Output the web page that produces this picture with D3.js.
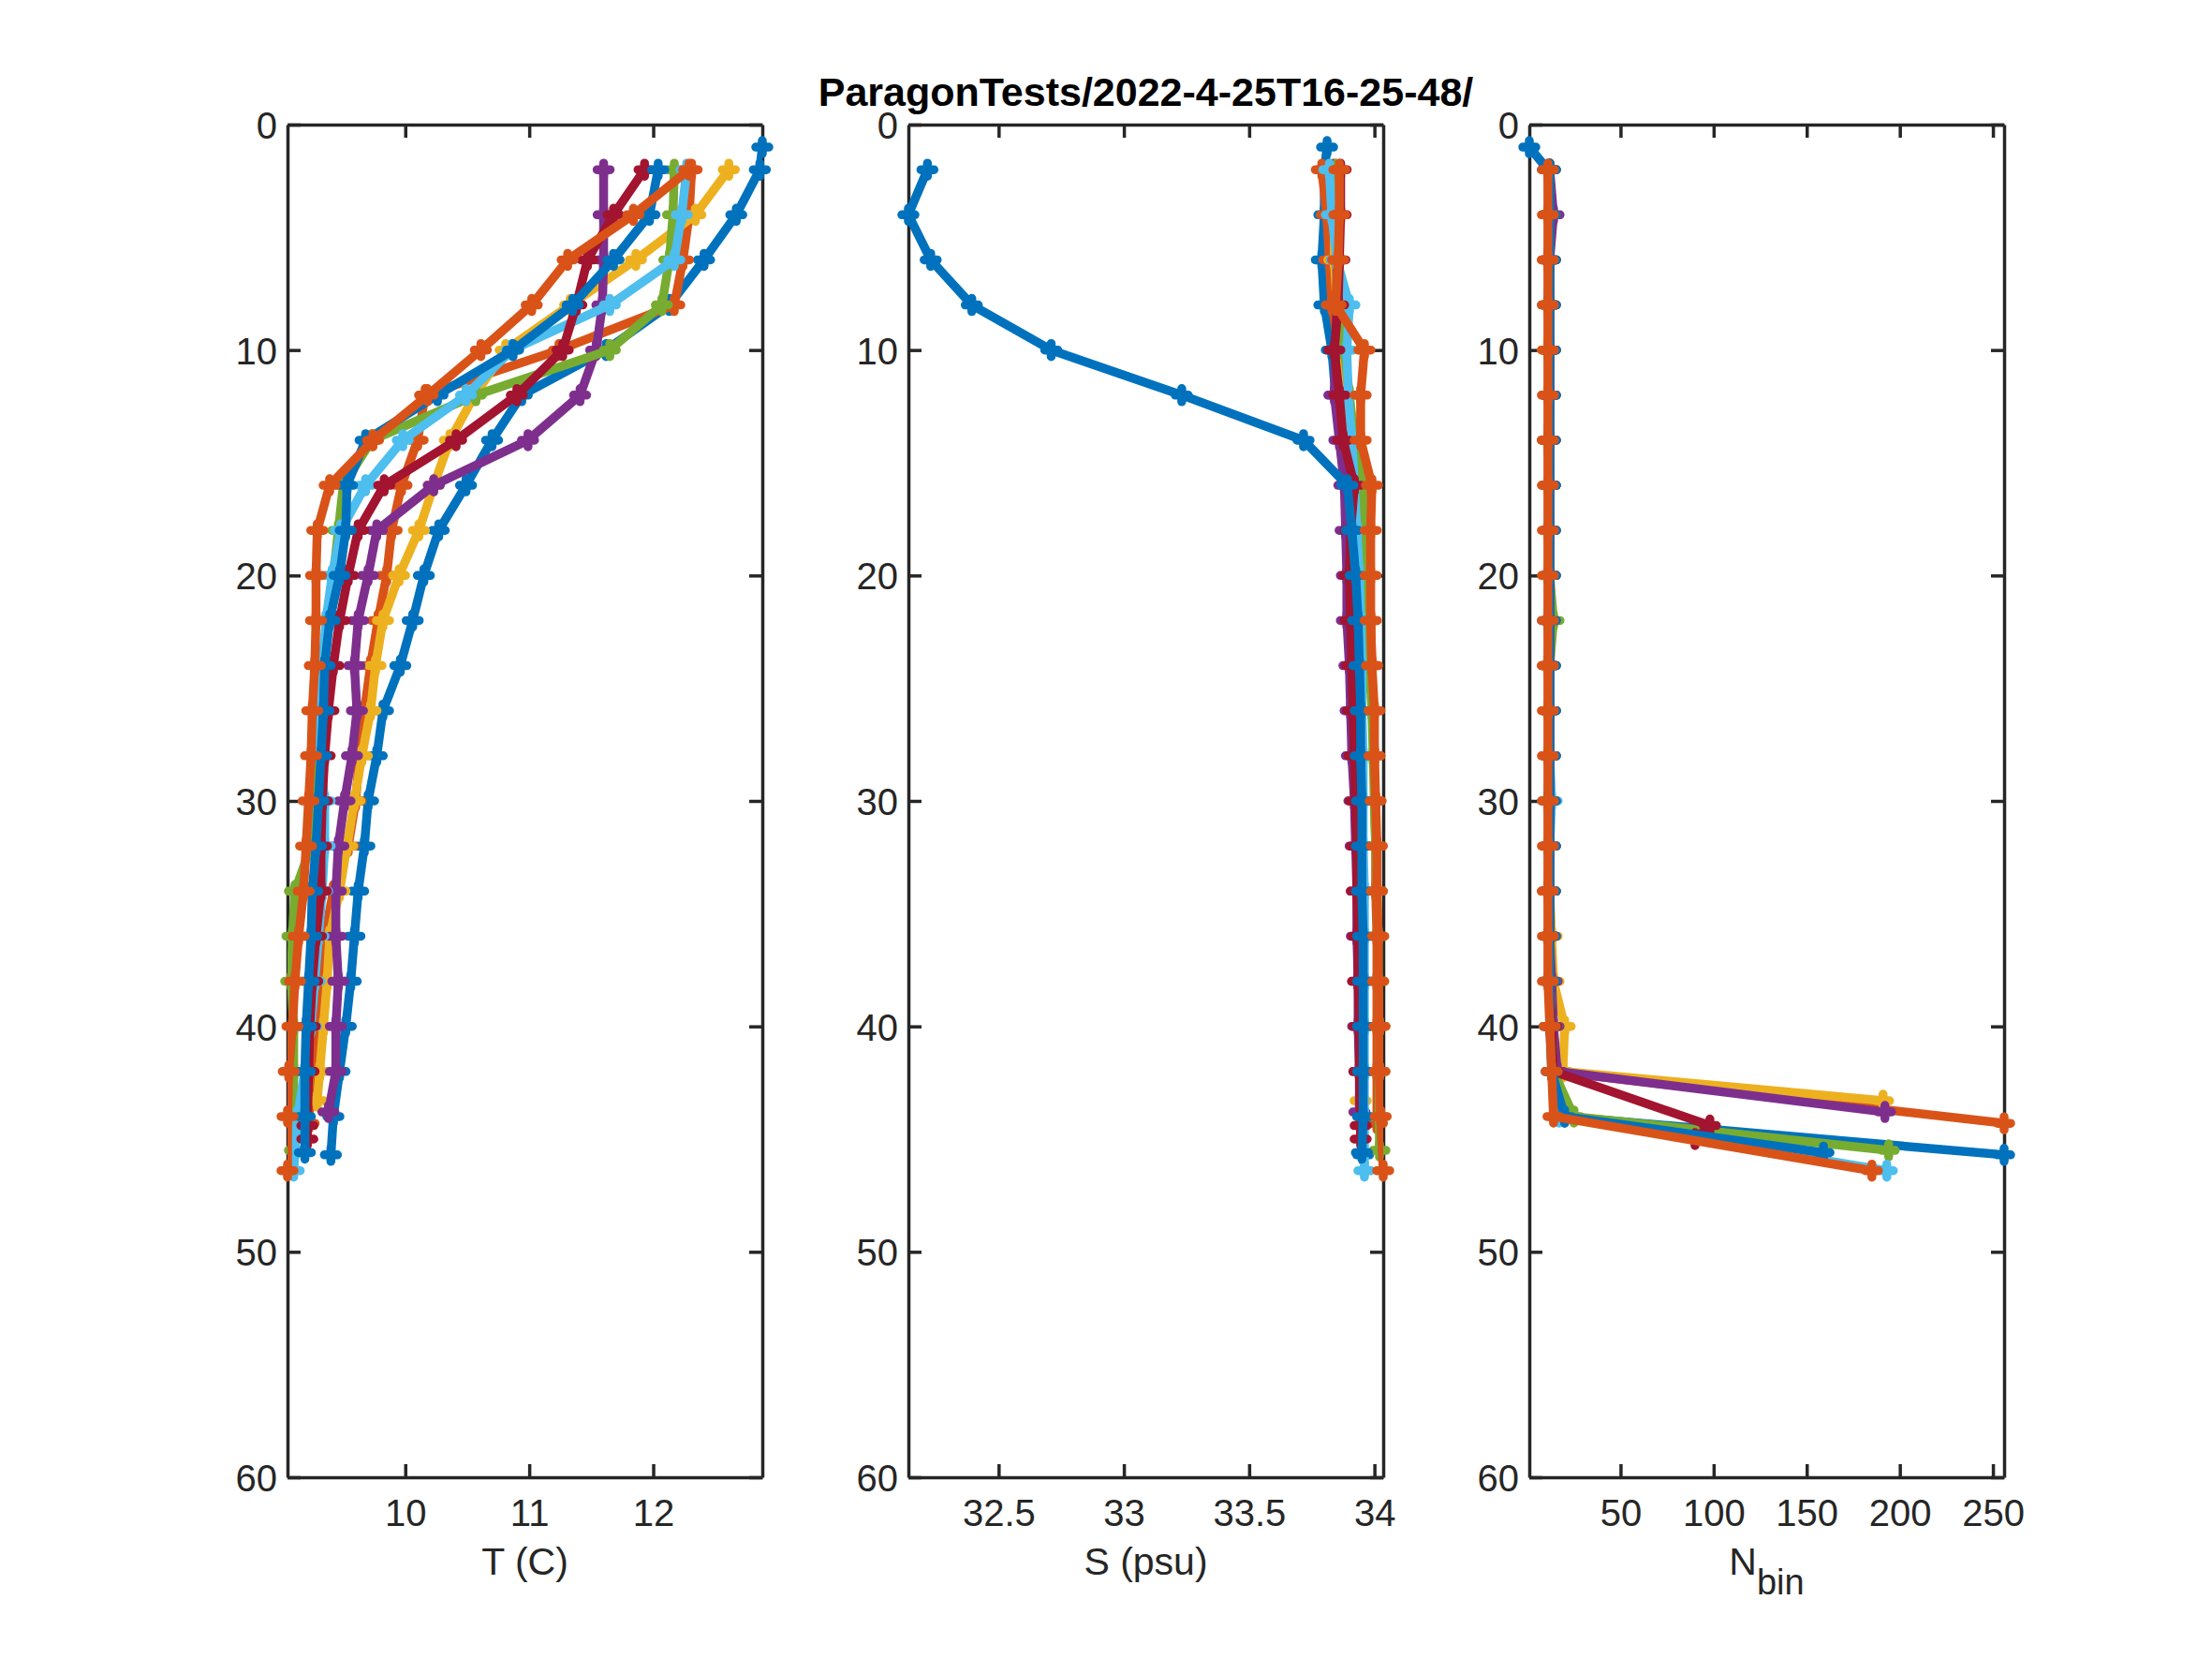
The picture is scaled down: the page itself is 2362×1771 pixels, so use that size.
<!DOCTYPE html>
<html>

<head>
    <meta charset="UTF-8">
    <title>ParagonTests/2022-4-25T16-25-48/</title>
    <script src="https://d3js.org/d3.v7.min.js"></script>
    <style>
        body { margin: 0; background: #fff; }
        text { font-family: "Liberation Sans", Arial, Helvetica, sans-serif; }
    </style>
</head>

<body>
    <div class="canvas"></div>

    <script>
        // ---- data, one set of arrays per profile (depth in m) ----
        const depth1 = [1, 2, 4, 6, 8, 10, 12, 14, 16, 18, 20, 22, 24, 26, 28, 30, 32, 34, 36, 38, 40, 42, 44, 45.7];
        const temp1 = [12.88, 12.86, 12.67, 12.41, 12.13, 11.62, 10.94, 10.70, 10.49, 10.27, 10.15, 10.06, 9.96, 9.82, 9.77, 9.70, 9.67, 9.62, 9.59, 9.56, 9.52, 9.47, 9.42, 9.40];
        const sal1 = [33.811, 33.80, 33.80, 33.79, 33.80, 33.83, 33.845, 33.87, 33.90, 33.915, 33.925, 33.93, 33.935, 33.94, 33.945, 33.945, 33.95, 33.95, 33.95, 33.955, 33.955, 33.955, 33.955, 33.955];
        const nbin1 = [1, 11, 12, 12, 11, 12, 12, 11, 12, 12, 12, 11, 12, 12, 12, 11, 12, 12, 12, 12, 13, 14, 20, 256];

        const depth2 = [2, 4, 6, 8, 10, 12, 14, 16, 18, 20, 22, 24, 26, 28, 30, 32, 34, 36, 38, 40, 42, 44.3];
        const temp2 = [12.31, 12.29, 12.24, 12.17, 11.24, 10.16, 10.10, 9.97, 9.89, 9.85, 9.78, 9.72, 9.67, 9.63, 9.60, 9.54, 9.42, 9.35, 9.30, 9.28, 9.25, 9.22];
        const sal2 = [33.79, 33.81, 33.82, 33.83, 33.86, 33.89, 33.93, 33.96, 33.97, 33.98, 33.985, 33.99, 33.995, 34.0, 34.0, 34.005, 34.005, 34.01, 34.01, 34.01, 34.01, 34.01];
        const nbin2 = [12, 12, 11, 12, 12, 12, 11, 12, 12, 12, 12, 11, 12, 12, 12, 12, 11, 12, 12, 12, 14, 256];

        const depth3 = [2, 4, 6, 8, 10, 12, 14, 16, 18, 20, 22, 24, 26, 28, 30, 32, 34, 36, 38, 40, 42, 43.3];
        const temp3 = [12.61, 12.34, 11.86, 11.33, 10.81, 10.56, 10.36, 10.23, 10.11, 9.95, 9.82, 9.76, 9.72, 9.65, 9.59, 9.53, 9.47, 9.39, 9.37, 9.34, 9.31, 9.29];
        const sal3 = [33.83, 33.84, 33.84, 33.85, 33.87, 33.88, 33.89, 33.91, 33.92, 33.925, 33.93, 33.93, 33.935, 33.935, 33.935, 33.94, 33.94, 33.94, 33.945, 33.945, 33.945, 33.945];
        const nbin3 = [12, 12, 12, 12, 11, 12, 12, 12, 12, 12, 13, 12, 12, 12, 12, 12, 12, 13, 14, 20, 19, 191];

        const depth4 = [2, 4, 6, 8, 10, 12, 14, 16, 18, 20, 22, 24, 26, 28, 30, 32, 34, 36, 38, 40, 42, 43.8];
        const temp4 = [11.60, 11.60, 11.60, 11.59, 11.54, 11.41, 10.99, 10.23, 9.77, 9.70, 9.62, 9.59, 9.61, 9.57, 9.51, 9.46, 9.44, 9.44, 9.46, 9.44, 9.44, 9.38];
        const sal4 = [33.84, 33.845, 33.85, 33.85, 33.845, 33.84, 33.86, 33.88, 33.885, 33.89, 33.89, 33.90, 33.905, 33.91, 33.92, 33.925, 33.93, 33.93, 33.935, 33.935, 33.94, 33.94];
        const nbin4 = [12, 14, 12, 12, 12, 12, 12, 12, 12, 12, 12, 12, 12, 12, 12, 12, 12, 12, 13, 14, 16, 192];

        const depth5 = [2, 4, 6, 8, 10, 12, 14, 16, 18, 20, 22, 24, 26, 28, 30, 32, 34, 36, 38, 40, 42, 44, 45.5];
        const temp5 = [12.17, 12.16, 12.13, 12.07, 11.65, 10.57, 9.73, 9.50, 9.46, 9.42, 9.37, 9.33, 9.30, 9.28, 9.26, 9.24, 9.11, 9.09, 9.08, 9.10, 9.10, 9.10, 9.11];
        const sal5 = [33.85, 33.85, 33.855, 33.86, 33.88, 33.90, 33.92, 33.95, 33.96, 33.97, 33.975, 33.98, 33.99, 33.995, 34.0, 34.005, 34.01, 34.015, 34.015, 34.02, 34.02, 34.02, 34.02];
        const nbin5 = [12, 12, 12, 12, 12, 12, 12, 12, 12, 12, 14, 12, 12, 12, 12, 12, 12, 12, 12, 13, 14, 25, 194];

        const depth6 = [2, 4, 6, 8, 10, 12, 14, 16, 18, 20, 22, 24, 26, 28, 30, 32, 34, 36, 38, 40, 42, 44, 46.4];
        const temp6 = [12.27, 12.23, 12.17, 11.65, 10.86, 10.49, 9.98, 9.68, 9.48, 9.41, 9.36, 9.33, 9.32, 9.31, 9.35, 9.35, 9.33, 9.30, 9.27, 9.24, 9.19, 9.13, 9.10];
        const sal6 = [33.82, 33.83, 33.85, 33.90, 33.89, 33.895, 33.91, 33.92, 33.93, 33.94, 33.945, 33.95, 33.95, 33.955, 33.955, 33.955, 33.96, 33.96, 33.96, 33.96, 33.96, 33.96, 33.96];
        const nbin6 = [12, 12, 12, 12, 12, 12, 12, 12, 12, 12, 12, 12, 12, 12, 13, 12, 12, 12, 12, 13, 13, 17, 193];

        const depth7 = [2, 4, 6, 8, 10, 12, 14, 16, 18, 20, 22, 24, 26, 28, 30, 32, 34, 36, 38, 40, 42, 44.4, 45.0];
        const temp7 = [11.93, 11.68, 11.47, 11.38, 11.27, 10.90, 10.41, 9.83, 9.62, 9.54, 9.47, 9.42, 9.38, 9.35, 9.33, 9.32, 9.32, 9.28, 9.25, 9.23, 9.22, 9.21, 9.21];
        const sal7 = [33.865, 33.865, 33.86, 33.855, 33.84, 33.86, 33.875, 33.92, 33.905, 33.90, 33.905, 33.91, 33.915, 33.92, 33.925, 33.93, 33.93, 33.935, 33.935, 33.94, 33.94, 33.945, 33.945];
        const nbin7 = [12, 12, 12, 12, 12, 12, 12, 12, 12, 12, 12, 12, 12, 12, 12, 12, 12, 12, 12, 13, 14, 98, 90];

        const depth8 = [2, 4, 6, 8, 10, 12, 14, 16, 18, 20, 22, 24, 26, 28, 30, 32, 34, 36, 38, 40, 42, 44, 45.6];
        const temp8 = [12.04, 11.97, 11.68, 11.35, 10.87, 10.26, 9.68, 9.53, 9.52, 9.47, 9.39, 9.35, 9.34, 9.32, 9.30, 9.28, 9.25, 9.24, 9.22, 9.20, 9.19, 9.19, 9.19];
        const sal8 = [32.216, 32.14, 32.229, 32.393, 32.71, 33.231, 33.717, 33.892, 33.91, 33.925, 33.935, 33.94, 33.945, 33.945, 33.95, 33.95, 33.95, 33.955, 33.955, 33.955, 33.955, 33.955, 33.95];
        const nbin8 = [12, 12, 12, 12, 12, 12, 12, 12, 12, 12, 12, 12, 12, 12, 12, 12, 12, 12, 12, 12, 13, 20, 159];

        const depth9 = [2, 4, 6, 8, 10, 12, 14, 16, 18, 20, 22, 24, 26, 28, 30, 32, 34, 36, 38, 40, 42, 44, 46.4];
        const temp9 = [12.29, 11.84, 11.31, 11.02, 10.61, 10.18, 9.74, 9.39, 9.29, 9.28, 9.28, 9.27, 9.25, 9.24, 9.22, 9.20, 9.18, 9.14, 9.11, 9.09, 9.06, 9.05, 9.05];
        const sal9 = [33.86, 33.86, 33.855, 33.845, 33.96, 33.945, 33.945, 33.99, 33.985, 33.985, 33.985, 33.99, 34.0, 34.0, 34.005, 34.01, 34.01, 34.015, 34.015, 34.02, 34.02, 34.025, 34.035];
        const nbin9 = [11, 11, 11, 11, 11, 11, 11, 11, 11, 11, 11, 11, 11, 11, 11, 11, 11, 11, 11, 12, 13, 14, 185];

        // matlab default colour order, cycling back for profiles 8 and 9
        const colors = ["#0072BD", "#D95319", "#EDB120", "#7E2F8E", "#77AC30", "#4DBEEE", "#A2142F", "#0072BD", "#D95319"];

        const depthTicks = [0, 10, 20, 30, 40, 50, 60];
        const tempTicks = [10, 11, 12];
        const salTicks = [32.5, 33, 33.5, 34];
        const nbinTicks = [50, 100, 150, 200, 250];

        const titleText = "ParagonTests/2022-4-25T16-25-48/";

        // ---- build the table ----
        const depths = [depth1, depth2, depth3, depth4, depth5, depth6, depth7, depth8, depth9];
        const temps = [temp1, temp2, temp3, temp4, temp5, temp6, temp7, temp8, temp9];
        const sals = [sal1, sal2, sal3, sal4, sal5, sal6, sal7, sal8, sal9];
        const nbins = [nbin1, nbin2, nbin3, nbin4, nbin5, nbin6, nbin7, nbin8, nbin9];

        const profiles = depths.map((dz, i) => dz.map((z, j) => ({
            z: z, temp: temps[i][j], sal: sals[i][j], nbin: nbins[i][j]
        })));

        const panels = [
            { key: "temp", ticks: tempTicks, label: "T (C)" },
            { key: "sal", ticks: salTicks, label: "S (psu)" },
            { key: "nbin", ticks: nbinTicks, label: "N", sub: "bin" }
        ];

        // ---- layout ----
        const width = 2362;
        const height = 1771;
        const plotTop = 133;
        const plotBottom = 1577;
        const panelLeft = [307, 970, 1633];
        const panelWidth = 507;
        const axisColor = "#262626";
        const tickLen = 14;

        const svg = d3.select(".canvas")
            .append("svg")
            .attr("width", width)
            .attr("height", height)
            .style("background", "#fff");

        const yScale = d3.scaleLinear()
            .domain([0, 60])
            .range([plotTop, plotBottom]);

        // '+' marker
        const marker = "M-7,0H7M0,-7V7";

        panels.forEach((p, pi) => {
            const left = panelLeft[pi];
            const right = left + panelWidth;

            // tight x limits like the original
            const allVals = profiles.flat().map((d) => d[p.key]);
            const xScale = d3.scaleLinear()
                .domain(d3.extent(allVals))
                .range([left, right]);

            const g = svg.append("g");

            // clip for lines
            const clipId = "clip" + pi;
            svg.append("clipPath")
                .attr("id", clipId)
                .append("rect")
                .attr("x", left)
                .attr("y", plotTop)
                .attr("width", panelWidth)
                .attr("height", plotBottom - plotTop);

            // axes (ticks inside, box on)
            const xBottom = g.append("g")
                .attr("transform", `translate(0, ${plotBottom})`)
                .call(d3.axisBottom(xScale).tickValues(p.ticks).tickSizeInner(-tickLen).tickSizeOuter(0).tickPadding(24).tickFormat(d3.format("")));
            const xTop = g.append("g")
                .attr("transform", `translate(0, ${plotTop})`)
                .call(d3.axisTop(xScale).tickValues(p.ticks).tickSizeInner(-tickLen).tickSizeOuter(0).tickFormat(""));
            const yLeft = g.append("g")
                .attr("transform", `translate(${left}, 0)`)
                .call(d3.axisLeft(yScale).tickValues(depthTicks).tickSizeInner(-tickLen).tickSizeOuter(0).tickPadding(11));
            const yRight = g.append("g")
                .attr("transform", `translate(${right}, 0)`)
                .call(d3.axisRight(yScale).tickValues(depthTicks).tickSizeInner(-tickLen).tickSizeOuter(0).tickFormat(""));

            [xBottom, xTop, yLeft, yRight].forEach((ax) => {
                ax.selectAll("path, line")
                    .attr("stroke", axisColor)
                    .attr("stroke-width", 3.5);
                ax.selectAll("text")
                    .attr("fill", axisColor)
                    .style("font-size", "40px")
                    .style("font-family", '"Liberation Sans", Arial, Helvetica, sans-serif');
            });
            // centre y labels on the tick
            yLeft.selectAll("text").attr("dy", "0.36em");

            // axis label
            const lab = g.append("text")
                .attr("x", left + panelWidth / 2)
                .attr("y", 1681)
                .attr("text-anchor", "middle")
                .attr("fill", axisColor)
                .style("font-size", "41px")
                .text(p.label);
            if (p.sub) {
                lab.append("tspan")
                    .attr("dy", 21)
                    .style("font-size", "38px")
                    .text(p.sub);
            }

            // profiles
            const line = d3.line()
                .x((d) => xScale(d[p.key]))
                .y((d) => yScale(d.z));

            profiles.forEach((prof, i) => {
                g.append("path")
                    .datum(prof)
                    .attr("clip-path", `url(#${clipId})`)
                    .attr("fill", "none")
                    .attr("stroke", colors[i])
                    .attr("stroke-width", 9.5)
                    .attr("stroke-linejoin", "round")
                    .attr("d", line);

                g.selectAll(".m" + i)
                    .data(prof)
                    .enter()
                    .append("path")
                    .attr("class", "m" + i)
                    .attr("d", marker)
                    .attr("transform", (d) => `translate(${xScale(d[p.key])}, ${yScale(d.z)})`)
                    .attr("fill", "none")
                    .attr("stroke", colors[i])
                    .attr("stroke-width", 9.5)
                    .attr("stroke-linecap", "round");
            });
        });

        // title over the middle panel
        svg.append("text")
            .attr("x", panelLeft[1] + panelWidth / 2)
            .attr("y", 113)
            .attr("text-anchor", "middle")
            .attr("fill", "#000")
            .style("font-size", "43px")
            .style("font-weight", "bold")
            .text(titleText);

    </script>
</body>

</html>
